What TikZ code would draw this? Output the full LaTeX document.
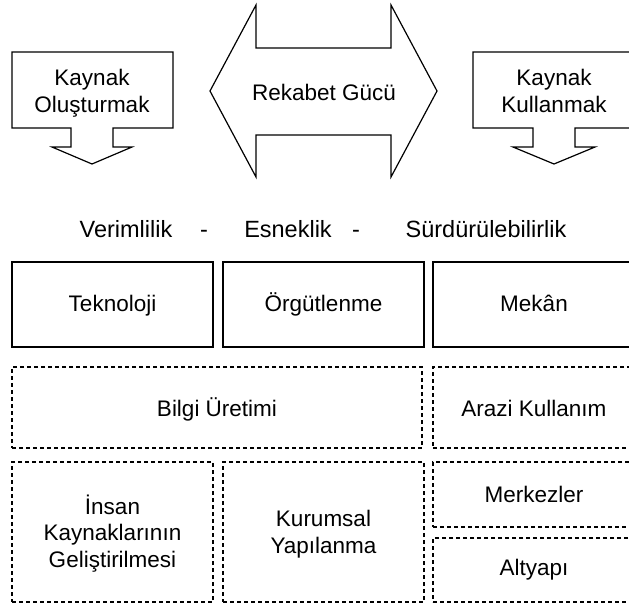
\documentclass[tikz,border=0pt]{standalone}
\usepackage{fontspec}
\setmainfont{Liberation Sans}
\begin{document}
\begin{tikzpicture}[x=1pt,y=-1pt,
  outline/.style={draw=black,line width=1.2pt,line join=miter},
  solidbox/.style={outline,rectangle,inner sep=0pt},
  dashbox/.style={draw=black,rectangle,inner sep=0pt,line width=1.1pt,dash pattern=on 4pt off 3pt},
  lbl/.style={anchor=base,align=center,inner sep=0pt,font=\fontsize{22.5}{26.5}\selectfont},
  midlbl/.style={anchor=base,inner sep=0pt,font=\fontsize{23.5}{28}\selectfont}]
\useasboundingbox (0,0) rectangle (629,606);
\begin{scope}
\clip (0,0) rectangle (629,606);

% callout with downward arrow: resource creation
\draw[outline] (12,52) -- (173,52) -- (173,128) -- (113,128) -- (113,147)
  -- (132,147) -- (92,164) -- (52,147) -- (71,147) -- (71,128) -- (12,128) -- cycle;
% multi-line labels sit on the baseline of their last line
\node[lbl] (olus) at (92,112) {Kaynak\\Oluşturmak};

% double-headed arrow: competitive power
\draw[outline] (210,91) -- (256,5) -- (256,48) -- (391,48) -- (391,5) -- (437,91)
  -- (391,177) -- (391,135) -- (256,135) -- (256,177) -- cycle;
\node[lbl] (rekabet) at (324,100) {Rekabet Gücü};

% callout with downward arrow: resource use
\draw[outline] (473,52) -- (635,52) -- (635,128) -- (575,128) -- (575,147)
  -- (595,147) -- (554,164) -- (513,147) -- (533,147) -- (533,128) -- (473,128) -- cycle;
\node[lbl] (kullan) at (554,112) {Kaynak\\Kullanmak};

% three goals
\node[midlbl] (verim) at (126,237) {Verimlilik};
\node[midlbl] (dash1) at (204,237) {-};
\node[midlbl] (esnek) at (288,237) {Esneklik};
\node[midlbl] (dash2) at (356,237) {-};
\node[midlbl] (surd) at (486,237) {Sürdürülebilirlik};

% solid row
\node[solidbox,minimum width=201pt,minimum height=85pt] (tek) at (112.5,304.5) {};
\node[solidbox,minimum width=201pt,minimum height=85pt] (org) at (323.5,304.5) {};
\node[solidbox,minimum width=202pt,minimum height=85pt] (mek) at (534,304.5) {};
\node[lbl] (tekt) at (112.5,311) {Teknoloji};
\node[lbl] (orgt) at (323.5,311) {Örgütlenme};
\node[lbl] (mekt) at (534,311) {Mekân};

% dashed row one
\node[dashbox,minimum width=410pt,minimum height=81pt] (bilgi) at (217,407.5) {};
\node[dashbox,minimum width=202pt,minimum height=81pt] (arazi) at (534,407.5) {};
\node[lbl] (bilgit) at (217,416) {Bilgi Üretimi};
\node[lbl] (arazit) at (534,416) {Arazi Kullanım};

% dashed row two
\node[dashbox,minimum width=201pt,minimum height=140pt] (insan) at (112.5,532) {};
\node[dashbox,minimum width=201pt,minimum height=140pt] (kurum) at (323.5,532) {};
\node[dashbox,minimum width=202pt,minimum height=65pt] (merk) at (534,494.5) {};
\node[dashbox,minimum width=202pt,minimum height=64pt] (alty) at (534,570) {};
\node[lbl] (insant) at (112.5,567) {İnsan\\Kaynaklarının\\Geliştirilmesi};
\node[lbl] (kurumt) at (323.5,553) {Kurumsal\\Yapılanma};
\node[lbl] (merkt) at (534,502) {Merkezler};
\node[lbl] (altyt) at (534,575) {Altyapı};
\end{scope}
\end{tikzpicture}
\end{document}
